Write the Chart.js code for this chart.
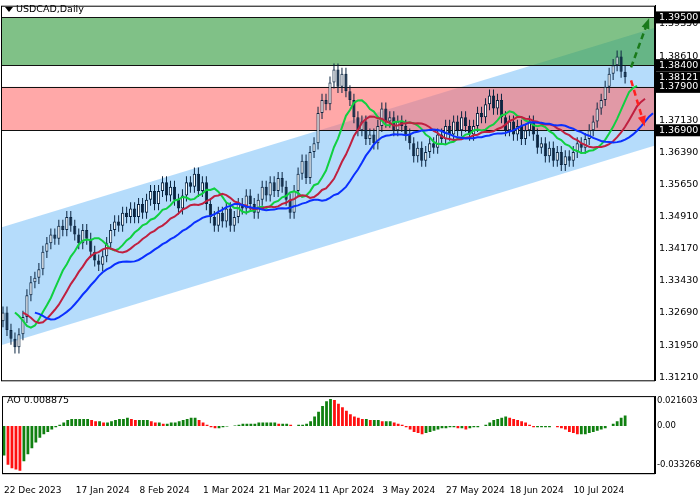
<!DOCTYPE html>
<html><head><meta charset="utf-8">
<script src="https://cdn.jsdelivr.net/npm/chart.js@4"></script>
<style>
body{margin:0;background:#fff;font-family:"DejaVu Sans",sans-serif;overflow:hidden}
#w{position:relative;width:700px;height:500px;overflow:hidden}
#c1{position:absolute;left:0;top:-4px}
#c2{position:absolute;left:0;top:389px}
</style></head><body><div id="w">
<canvas id="c1" width="700" height="394"></canvas>
<canvas id="c2" width="700" height="111"></canvas></div>
<script>
const closes=[1.327,1.323,1.321,1.319,1.322,1.326,1.331,1.334,1.335,1.337,1.341,1.343,1.345,1.344,1.347,1.346,1.349,1.347,1.345,1.343,
1.346,1.344,1.341,1.339,1.338,1.340,1.343,1.346,1.348,1.347,1.350,1.349,1.351,1.349,1.352,1.350,1.353,1.355,1.352,1.355,
1.357,1.354,1.356,1.353,1.351,1.354,1.357,1.356,1.359,1.355,1.357,1.352,1.349,1.347,1.350,1.348,1.351,1.347,1.349,1.352,
1.351,1.354,1.352,1.350,1.353,1.356,1.354,1.357,1.355,1.358,1.356,1.353,1.350,1.355,1.359,1.362,1.358,1.364,1.366,1.373,
1.376,1.375,1.380,1.383,1.379,1.382,1.378,1.376,1.372,1.369,1.371,1.367,1.368,1.366,1.370,1.374,1.371,1.372,1.369,1.371,
1.370,1.368,1.366,1.363,1.365,1.362,1.364,1.366,1.365,1.368,1.367,1.370,1.368,1.371,1.369,1.372,1.370,1.368,1.370,1.373,
1.372,1.375,1.377,1.374,1.376,1.372,1.369,1.371,1.368,1.370,1.367,1.369,1.371,1.368,1.365,1.366,1.363,1.365,1.362,1.364,
1.361,1.363,1.362,1.364,1.366,1.365,1.367,1.369,1.371,1.374,1.376,1.379,1.382,1.384,1.386,1.3825,1.3812];
const aoVals=[-25,-33,-36,-37,-38,-30,-24,-19,-14,-10,-7,-5,-3,-1,1,3,5,6,6,6,6,6,5,4,4,3,3,4,5,6,6,7,
6,5,5,5,5,4,3,3,2,2,3,3,4,5,6,7,7,5,3,1,-1,-2,-2,-1,-0.5,0,0.5,1,2,2,2,2,3,3,3,3,3,2,2,2,1,0,1,1,2,
4,8,12,17,21,23,22,19,16,13,10,8,7,6,6,5,5,5,4,4,4,3,2,1,-1,-3,-5,-6,-7,-6,-5,-4,-3,-2,-2,-1,-1,-2,-2,-3,-2,-1,-1,0,1,3,5,6,7,8,
7,6,5,4,3,1,-1,-1,-1,-1,-1,0,-1,-2,-3,-5,-6,-7,-7,-7,-6,-5,-4,-3,-2,0,2,4,7,9];
const tickLabels=["22 Dec 2023","17 Jan 2024","8 Feb 2024","1 Mar 2024","21 Mar 2024","11 Apr 2024","3 May 2024","27 May 2024","18 Jun 2024","10 Jul 2024"];
const yTicks=[1.3935,1.3861,1.3787,1.3713,1.3639,1.3565,1.3491,1.3417,1.3343,1.3269,1.3195,1.3121];
const markedLevels=[1.395,1.384,1.38121,1.379,1.369];
const zones=[[1.384,1.395,'rgba(60,160,70,0.65)'],[1.369,1.379,'rgba(255,110,110,0.6)']];
const channelLow=[1.3195,1.3655], channelHigh=[1.3466,1.3926];
const aoTicks=[0.021603,0,-0.033268];

const N=closes.length, EXTRA=7, TOT=N+EXTRA;
const M=["Jan","Feb","Mar","Apr","May","Jun","Jul","Aug","Sep","Oct","Nov","Dec"];
const labels=[];let d=new Date(Date.UTC(2023,11,22));
for(let i=0;i<TOT;i++){labels.push(d.getUTCDate()+" "+M[d.getUTCMonth()]+" "+d.getUTCFullYear());
 do{d.setUTCDate(d.getUTCDate()+1);}while(d.getUTCDay()==0||d.getUTCDay()==6);}
const opens=closes.map((c,i)=>i?closes[i-1]:1.325);
const bodies=closes.map((c,i)=>[opens[i],c]);
const wicks=closes.map((c,i)=>[Math.min(opens[i],c)-0.0014,Math.max(opens[i],c)+0.0014]);
function smma(p,sh){const out=new Array(TOT).fill(null);let v=closes[0];
 for(let i=0;i<N;i++){v=i?(v*(p-1)+closes[i])/p:closes[0];if(i+sh<TOT)out[i+sh]=v;}return out;}
const jaw=smma(13,8),teeth=smma(8,5),lips=smma(5,3);
const ao=aoVals.map(v=>v/1000);
const FONT={size:9.5,family:'DejaVu Sans'};

const bg={id:'bg',beforeDatasetsDraw(c){const {ctx,chartArea:a,scales:{x,y}}=c;ctx.save();
 ctx.beginPath();ctx.rect(a.left,a.top,a.width,a.height);ctx.clip();
 const x0=x.getPixelForValue(0)-2,x1=a.right;
 ctx.fillStyle='rgba(150,205,250,0.7)';ctx.beginPath();
 ctx.moveTo(x0,y.getPixelForValue(channelLow[0]));ctx.lineTo(x1,y.getPixelForValue(channelLow[1]));
 ctx.lineTo(x1,y.getPixelForValue(channelHigh[1]));ctx.lineTo(x0,y.getPixelForValue(channelHigh[0]));ctx.fill();
 for(const z of zones){ctx.fillStyle=z[2];const t=y.getPixelForValue(z[1]),b=y.getPixelForValue(z[0]);
  ctx.fillRect(a.left,t,a.width,b-t);ctx.strokeStyle='#111';ctx.lineWidth=1;
  ctx.beginPath();ctx.moveTo(a.left,Math.round(t)+.5);ctx.lineTo(a.right,Math.round(t)+.5);ctx.moveTo(a.left,Math.round(b)+.5);ctx.lineTo(a.right,Math.round(b)+.5);ctx.stroke();}
 ctx.restore();},
 afterDatasetsDraw(c){const {ctx,chartArea:a,scales:{x,y}}=c;ctx.save();
 const arrow=(i0,v0,i1,v1,col)=>{const ax=x.getPixelForValue(i0),ay=y.getPixelForValue(v0),bx=x.getPixelForValue(i1),by=y.getPixelForValue(v1);
  ctx.strokeStyle=col;ctx.lineWidth=2.5;ctx.setLineDash([6,4]);ctx.beginPath();ctx.moveTo(ax,ay);ctx.lineTo(bx,by);ctx.stroke();ctx.setLineDash([]);
  const an=Math.atan2(by-ay,bx-ax);ctx.fillStyle=col;ctx.beginPath();ctx.moveTo(bx+6*Math.cos(an),by+6*Math.sin(an));
  ctx.lineTo(bx+6*Math.cos(an+2.4),by+6*Math.sin(an+2.4));ctx.lineTo(bx+6*Math.cos(an-2.4),by+6*Math.sin(an-2.4));ctx.fill();};
 arrow(N+0.5,1.3835,N+4.5,1.3935,'#1a7a1a');arrow(N+0.5,1.3805,N+3.5,1.3712,'#ff2020');
 ctx.font='9.5px "DejaVu Sans"';ctx.textBaseline='middle';
 for(const v of markedLevels){const py=y.getPixelForValue(v);ctx.fillStyle='#000';ctx.fillRect(a.right+1,py-6,44,12);ctx.fillStyle='#fff';ctx.fillText(v.toFixed(5),a.right+4,py);}
 ctx.fillStyle='#000';ctx.beginPath();ctx.moveTo(5,11);ctx.lineTo(13,11);ctx.lineTo(9,16);ctx.fill();
 ctx.fillStyle='#fff';ctx.fillRect(15,6,72,14);ctx.fillStyle='#000';ctx.fillText('USDCAD,Daily',16,14);
 ctx.restore();}};
const frame={id:'frame',afterDraw(c){const {ctx,chartArea:a}=c;ctx.save();ctx.strokeStyle='#000';ctx.lineWidth=1;ctx.strokeRect(a.left+.5,a.top+.5,a.width-1,a.height);ctx.restore();}};

const yAxisFit=s=>{s.width=45;};
const yGrid={display:false,drawTicks:false};
new Chart(document.getElementById('c1'),{type:'bar',
 data:{labels,datasets:[
  {type:'line',data:jaw,borderColor:'#0a30ff',borderWidth:2,pointRadius:0,order:0},
  {type:'line',data:teeth,borderColor:'#c02040',borderWidth:2,pointRadius:0,order:0},
  {type:'line',data:lips,borderColor:'#10d040',borderWidth:2,pointRadius:0,order:0},
  {data:wicks,backgroundColor:'#0a2440',barPercentage:0.25,categoryPercentage:1,grouped:false,order:2},
  {data:bodies,backgroundColor:closes.map((c,i)=>c>=opens[i]?'#ffffff':'#0a2440'),borderColor:'#0a2440',borderWidth:1,borderSkipped:false,barPercentage:0.8,categoryPercentage:1,grouped:false,order:1}]},
 options:{responsive:false,animation:false,layout:{padding:{top:0,bottom:1,left:1,right:0}},
  plugins:{legend:{display:false},tooltip:{enabled:false}},
  scales:{x:{display:false,offset:true},
   y:{position:'right',min:1.3114,max:1.3977,afterFit:yAxisFit,grid:yGrid,border:{color:'#000'},
    afterBuildTicks:s=>{s.ticks=yTicks.map(v=>({value:v}));},
    ticks:{color:'#000',font:FONT,padding:4,callback:v=>v.toFixed(5)}}}},
 plugins:[bg,frame]});

new Chart(document.getElementById('c2'),{type:'bar',
 data:{labels,datasets:[{data:ao,backgroundColor:ao.map((v,i)=>i&&v<ao[i-1]?'#ff1010':'#108010'),barPercentage:0.7,categoryPercentage:1}]},
 options:{responsive:false,animation:false,layout:{padding:{top:3,left:1,right:0}},
  plugins:{legend:{display:false},tooltip:{enabled:false}},
  scales:{x:{offset:true,grid:{display:false},border:{color:'#000'},
    ticks:{color:'#000',font:{size:9,family:'DejaVu Sans'},maxRotation:0,autoSkip:false,align:'start',padding:4,
     callback:(v,i)=>tickLabels.includes(labels[i])?labels[i]:null}},
   y:{position:'right',min:-0.0401,max:0.0254,afterFit:yAxisFit,grid:yGrid,border:{color:'#000'},
    afterBuildTicks:s=>{s.ticks=aoTicks.map(v=>({value:v}));},
    ticks:{color:'#000',font:{size:8.5,family:'DejaVu Sans'},padding:2,callback:v=>v==0?'0.00':String(v)}}}},
 plugins:[frame,{id:'lbl',afterDraw(c){const ctx=c.ctx;ctx.save();ctx.font='9.5px "DejaVu Sans"';ctx.fillStyle='#000';ctx.fillText('AO 0.008875',7,14);ctx.restore();}}]});
</script></body></html>
